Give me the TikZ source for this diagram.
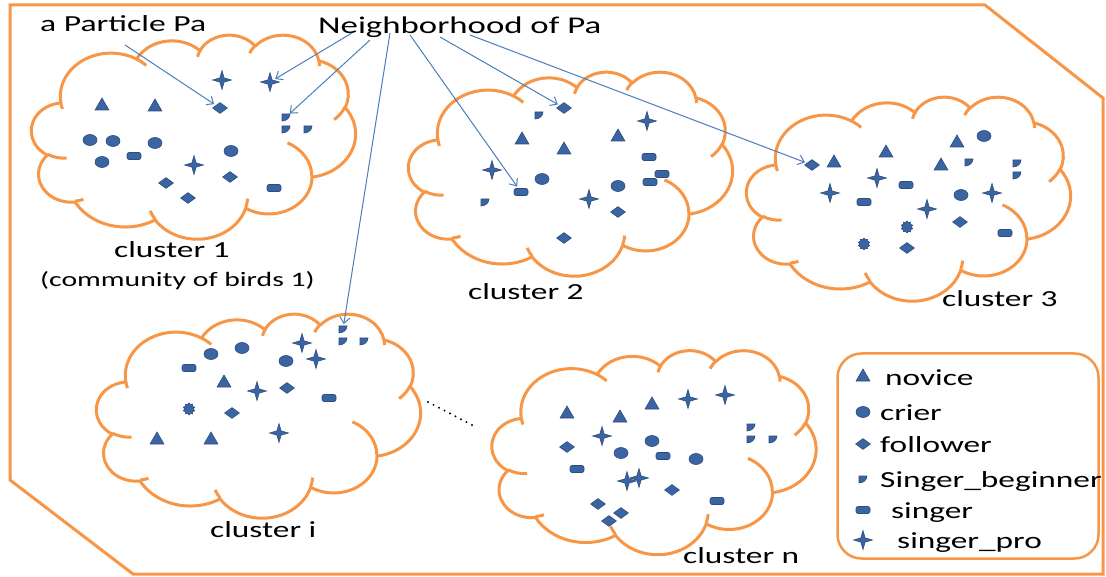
\documentclass[tikz,border=0pt]{standalone}
\usepackage{fontspec}
\usepackage{graphicx}
\setmainfont{Carlito}[FakeStretch=1.45]
\usetikzlibrary{shapes.geometric,shapes.symbols,arrows.meta}
\definecolor{ppOrange}{HTML}{F79646}
\definecolor{birdBlue}{HTML}{3B64A3}
\definecolor{birdEdge}{HTML}{2C4D7E}
\definecolor{linkBlue}{HTML}{4A7EBB}

\tikzset{
  puff/.code n args={4}{%
    \pgfmathsetmacro\pufs{atan2(#1*sin(#3),#2*cos(#3))}%
    \pgfmathsetmacro\pufd{mod(atan2(#1*sin(#3+#4),#2*cos(#3+#4))-\pufs+720,360)}%
    \tikzset{x radius=#1, y radius=#2, start angle=\pufs, delta angle=\pufd}},
  puffline/.style={ppOrange, line width=3pt, x=7.5pt, y=-4.722pt},
  flock/.pic={
    \draw[puffline, line join=round] (3.9,14.37)
      arc[puff={6.753}{9.19}{-190.4875}{123.7805}]
      arc[puff={5.333}{7.267}{-144.1024}{89.9452}]
      arc[puff={4.365}{5.945}{-145.8079}{99.723}]
      arc[puff={4.857}{6.595}{-130.9861}{117.2417}]
      arc[puff={5.333}{7.273}{-78.7089}{109.0269}]
      arc[puff={6.775}{9.22}{-46.2673}{130.269}]
      arc[puff={5.785}{7.867}{0.625}{114.0333}]
      arc[puff={6.752}{9.215}{22.4516}{115.1726}]
      arc[puff={7.72}{10.543}{66.2426}{75.711}]
      arc[puff={4.36}{5.918}{-274.9421}{146.7356}]
      arc[puff={4.345}{5.945}{-246.8285}{152.5189}] -- cycle;
    \draw[puffline]
      (4.693,26.177) arc[puff={4.345}{5.945}{86.742}{26.4295}]
      (6.928,34.899) arc[puff={4.36}{5.918}{73.6105}{11.4475}]
      (16.478,39.09) arc[puff={6.752}{9.215}{137.6242}{14.0811}]
      (28.827,34.751) arc[puff={6.752}{9.215}{6.4533}{15.9984}]
      (34.129,22.954) arc[puff={5.785}{7.867}{-70.2924}{70.9174}]
      (41.798,15.354) arc[puff={5.333}{7.273}{30.318}{27.7515}]
      (38.324,5.426) arc[puff={4.857}{6.595}{-13.7443}{14.8589}]
      (29.078,3.952) arc[puff={4.857}{6.595}{-149.1815}{18.1954}]
      (22.141,4.72) arc[puff={4.365}{5.945}{-163.4943}{17.6864}]
      (14,5.192) arc[puff={6.753}{9.19}{-66.707}{12.3194}]
      (4.127,15.789) arc[puff={6.753}{9.19}{157.6544}{11.8582}];
  },
  wedge/.pic={
    \filldraw[fill=birdBlue, draw=birdEdge, line width=0.6pt] (-4,-3) -- (4,-3)
      arc[start angle=0, end angle=90, x radius=8, y radius=7] -- cycle;
  }
}

\begin{document}
\begin{tikzpicture}[x=1pt,y=-1pt,
    every node/.style={inner sep=0pt},
    lbl/.style={font=\fontsize{23}{27}\selectfont, anchor=base west},
    bird/.style={fill=birdBlue, draw=birdEdge, line width=0.6pt, inner sep=1pt},
    novice/.style={bird, regular polygon, regular polygon sides=3, minimum size=16pt},
    crier/.style={bird, ellipse, minimum width=14pt, minimum height=11pt},
    follower/.style={bird, diamond, minimum width=15pt, minimum height=11pt},
    singer/.style={bird, rectangle, rounded corners=2pt, minimum width=14pt, minimum height=7pt},
    spro/.style={bird, star, star points=4, star point ratio=3.2, minimum size=19pt},
    burst/.style={bird, star, star points=10, star point ratio=1.35, minimum size=12pt},
    nbr/.style={draw=linkBlue, line width=1pt, -{Straight Barb[length=6pt,width=10pt]}, shorten >=2pt},
  ]
\useasboundingbox (0,0) rectangle (1106,577);
\draw[ppOrange, line width=3pt] (10,5) -- (985,5) -- (1103,98) -- (1103,574) -- (133,574) -- (10,480) -- cycle;

\pic (c1) at (31.5,34.5) {flock};
\pic (c2) at (408.5,71.5) {flock};
\pic (c3) at (746.5,96.5) {flock};
\pic (ci) at (96.5,313.5) {flock};
\pic (cn) at (492,350) {flock};

\node[lbl] (ptext) at (40,32) {\resizebox{166pt}{\height}{a Particle Pa}};
\node[lbl, font=\fontsize{24}{28}\selectfont] (nb) at (318,34) {Neighborhood of Pa};
\node[lbl] (l1) at (114,258) {cluster 1};
\node[lbl, font=\fontsize{20.5}{24}\selectfont] (l1b) at (40,287) {(community of birds 1)};
\node[lbl] (l2) at (468,300) {cluster 2};
\node[lbl] (l3) at (942,307) {cluster 3};
\node[lbl] (li) at (210,537) {cluster i};
\node[lbl] (ln) at (683,563) {cluster n};

\foreach \s/\x/\y [count=\k] in {spro/222/80, novice/102/106, novice/155/107,
    crier/90/140, crier/113/141, crier/155/143, crier/102/162, singer/134/156, crier/231/151, spro/194/165,
    follower/166/183, follower/230/177, follower/188/198, singer/274/188}
  \node[\s] (c1-\k) at (\x,\y) {};
\foreach \s/\x/\y [count=\k] in {spro/647/121, novice/522/140, novice/564/150, novice/618/137,
    singer/649/157, singer/662/174, singer/650/182, spro/492/170, crier/542/179, spro/589/199,
    crier/618/186, follower/618/212, follower/564/238}
  \node[\s] (c2-\k) at (\x,\y) {};
\foreach \s/\x/\y [count=\k] in {novice/834/163, novice/886/153, novice/957/143, crier/984/136, novice/941/166,
    spro/877/178, singer/906/185, spro/830/193, singer/864/202,
    crier/961/195, spro/992/193, spro/927/209, burst/907/227, follower/960/222, singer/1005/233,
    burst/864/244, follower/907/248}
  \node[\s] (c3-\k) at (\x,\y) {};
\foreach \s/\x/\y [count=\k] in {spro/302/343, crier/242/348, crier/211/354,
    crier/286/361, spro/316/359, singer/189/368, novice/224/383, spro/257/391, follower/287/388,
    singer/329/398, burst/189/409, follower/232/413, novice/157/440, novice/211/440, spro/279/433}
  \node[\s] (ci-\k) at (\x,\y) {};
\foreach \s/\x/\y [count=\k] in {spro/688/399, spro/725/395, novice/652/405, novice/567/414, novice/620/418,
    spro/602/436, follower/567/447, crier/652/441, crier/621/453,
    singer/663/456, crier/696/459, singer/577/469, spro/627/481, spro/639/478, follower/672/490,
    follower/598/504, singer/717/501, follower/621/513, follower/609/521}
  \node[\s] (cn-\k) at (\x,\y) {};
\foreach \x/\y in {286/129, 308/129, 539/115, 485/202, 969/162, 1017/163, 1017/175,
    343/341, 364/341, 751/427, 751/439, 773/439}
  \pic at (\x,\y) {wedge};

\node[follower] (pa) at (220,108) {};
\node[spro] (c1star) at (270,82) {};
\coordinate (c1sb) at (286,117);
\pic at (c1sb) {wedge};
\coordinate (cisb) at (343,329);
\pic at (cisb) {wedge};
\node[singer] (c2sg) at (521,192) {};
\node[follower] (c2fo) at (564,108) {};
\node[follower] (c3fo) at (812,165) {};

\coordinate (pfoot) at (125,45);
\coordinate (nb1) at (352,33);
\coordinate (nb2) at (370,40);
\coordinate (nb3) at (390,33);
\coordinate (nb4) at (410,35);
\coordinate (nb5) at (440,37);
\coordinate (nb6) at (470,35);
\draw[nbr] (pfoot) -- (pa);
\draw[nbr] (nb1) -- (c1star);
\draw[nbr, shorten >=5pt] (nb2) -- (c1sb);
\draw[nbr, shorten >=5pt] (nb3) -- (cisb);
\draw[nbr] (nb4) -- (c2sg);
\draw[nbr] (nb5) -- (c2fo);
\draw[nbr] (nb6) -- (c3fo);

\draw[line width=2.2pt, line cap=round, dash pattern=on 0pt off 6.2pt] (428,402) -- (472,425);

\node[draw=ppOrange, line width=2.5pt, rounded corners=24pt, minimum width=261pt, minimum height=205pt]
  (legend) at (968,456) {};
\foreach \s/\t/\x/\y in {novice/novice/885/385, crier/crier/880/420, follower/follower/880/452,
    singer/singer/891/518, spro/singer\_pro/897/548} {
  \node[\s] (key-\s) at (863,\y-8) {};
  \node[lbl] (txt-\s) at (\x,\y) {\t};
}
\coordinate (key-sbeg) at (863,479);
\pic at (key-sbeg) {wedge};
\node[lbl] (txt-sbeg) at (880,487) {Singer\_beginner};
\end{tikzpicture}
\end{document}
